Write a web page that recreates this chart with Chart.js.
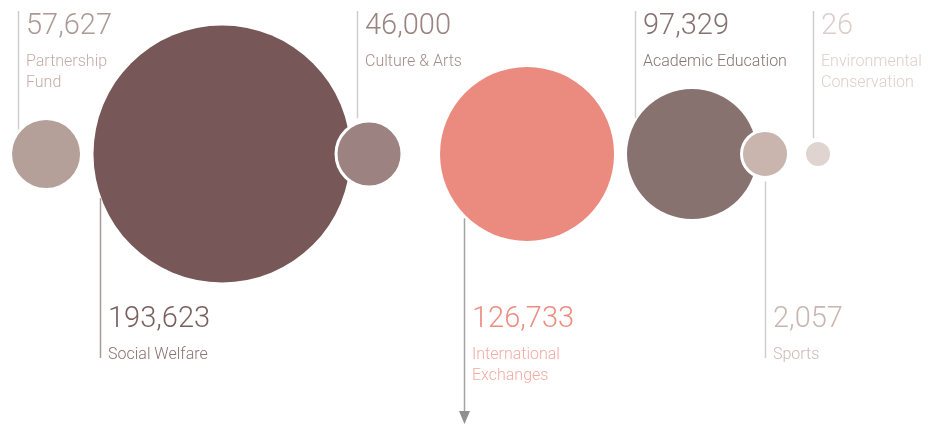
<!DOCTYPE html>
<html>
<head>
<meta charset="utf-8">
<script src="https://cdn.jsdelivr.net/npm/chart.js@4/dist/chart.umd.min.js"></script>
<style>
  html, body { margin: 0; padding: 0; background: #ffffff; }
  #wrap { width: 930px; height: 425px; position: relative; }
</style>
</head>
<body>
<div id="wrap"><canvas id="c" width="930" height="425"></canvas></div>
<script>
// Spending by area
const categories = ['Partnership Fund', 'Social Welfare', 'Culture & Arts', 'International Exchanges', 'Academic Education', 'Sports', 'Environmental Conservation'];
const values = [57627, 193623, 46000, 126733, 97329, 2057, 26];
// Label text, broken into lines
const labelLines = [['Partnership', 'Fund'], ['Social Welfare'], ['Culture & Arts'], ['International', 'Exchanges'], ['Academic Education'], ['Sports'], ['Environmental', 'Conservation']];

// Layout along the row (0–100 units) and bubble radius in px
const rowPosition = [4.95, 23.87, 39.68, 56.67, 74.41, 82.26, 87.96];
const bubbleRadius = [34, 128.5, 33, 87, 65, 23.5, 12];

const fillColors = ['#b59f99', '#775757', '#9c8280', '#eb8a7e', '#877270', '#c9b4ae', '#e0d4d0'];
const valueColors = ['#ad9995', '#7a5f5f', '#9a8480', '#ee8d81', '#857270', '#c9b6b0', '#dccfcb'];
const nameColors = ['#c3aca7', '#8a7272', '#a48e8a', '#f3aba2', '#87746f', '#cdb9b3', '#dccfcb'];
// Leader line: offset from centre (fraction of radius) and direction
const leaderOffset = [-0.82, -0.95, -0.37, -0.72, -0.88, 0, -0.42];
const leaderSide = ['up', 'down', 'up', 'down', 'up', 'down', 'up'];

const FONT = 'Roboto, "DejaVu Sans", sans-serif';

const labelPlugin = {
  id: 'leaderLabels',
  afterDatasetsDraw(chart) {
    const ctx = chart.ctx;
    const meta = chart.getDatasetMeta(0);
    meta.data.forEach((pt, i) => {
      const r = bubbleRadius[i];
      const dx = leaderOffset[i] * r;
      const lx = Math.round(pt.x + dx) + 0.5;
      const dy = Math.sqrt(Math.max(r * r - dx * dx, 0));
      const up = leaderSide[i] === 'up';
      const isArrow = i === 3;
      ctx.save();
      ctx.lineWidth = 1.5;
      ctx.strokeStyle = isArrow ? '#a3a3a3' : (i === 1 ? '#a79a9a' : '#cfcfcf');
      ctx.beginPath();
      if (up) {
        ctx.moveTo(lx, 11);
        ctx.lineTo(lx, pt.y - dy - 5);
      } else {
        ctx.moveTo(lx, pt.y + dy + 4);
        ctx.lineTo(lx, isArrow ? 414 : 358);
      }
      ctx.stroke();
      if (isArrow) {
        ctx.fillStyle = '#8f8f8f';
        ctx.beginPath();
        ctx.moveTo(lx - 5.5, 411);
        ctx.lineTo(lx + 5.5, 411);
        ctx.lineTo(lx, 424);
        ctx.closePath();
        ctx.fill();
      }
      const tx = lx + 7.5;
      const base = up ? 34 : 327;
      ctx.textAlign = 'left';
      ctx.textBaseline = 'alphabetic';
      ctx.fillStyle = valueColors[i];
      ctx.font = '300 29px ' + FONT;
      ctx.fillText(values[i].toLocaleString('en-US'), tx, base);
      ctx.fillStyle = nameColors[i];
      ctx.font = '300 16px ' + FONT;
      labelLines[i].forEach((line, k) => {
        ctx.fillText(line, tx, base + 31.5 + k * 21.5);
      });
      ctx.restore();
    });
  }
};

new Chart(document.getElementById('c'), {
  type: 'bubble',
  data: {
    labels: categories,
    datasets: [{
      data: values.map((v, i) => ({ x: rowPosition[i], y: 0, r: bubbleRadius[i] })),
      backgroundColor: fillColors,
      borderColor: '#ffffff',
      borderWidth: [0, 0, 3, 0, 0, 3, 0],
      hoverBorderWidth: 0,
      clip: false
    }]
  },
  options: {
    responsive: false,
    animation: false,
    events: [],
    layout: { padding: 0, autoPadding: false },
    plugins: { legend: { display: false }, tooltip: { enabled: false } },
    scales: {
      x: { type: 'linear', min: 0, max: 100, display: false },
      y: { type: 'linear', min: -271, max: 154, display: false }
    }
  },
  plugins: [labelPlugin]
});
</script>
</body>
</html>
